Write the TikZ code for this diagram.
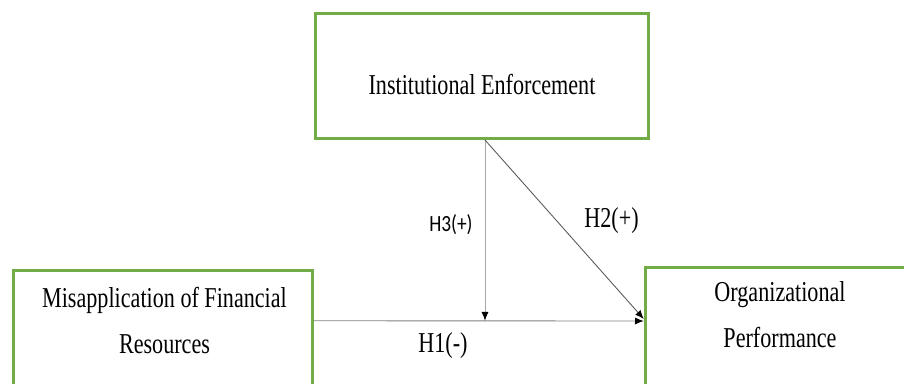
\documentclass[tikz,border=0pt]{standalone}
\usepackage{fontspec}
\setmainfont{Liberation Serif}
\newfontfamily\calib{Carlito}
\usetikzlibrary{arrows.meta, positioning, calc}
\definecolor{boxGreen}{HTML}{70AD47}
\definecolor{lineGray}{HTML}{7F7F7F}
\definecolor{lineLight}{HTML}{A6A6A6}
\definecolor{lineDark}{HTML}{595959}
\newcommand{\tallText}[1]{\scalebox{1}[1.3]{#1}}

\begin{document}
\begin{tikzpicture}[x=0.02cm, y=-0.02cm,
    varbox/.style={draw=boxGreen, line width=1.7pt, rectangle},
    txt/.style={anchor=base, inner sep=0pt, font=\fontsize{12.6}{15}\selectfont},
    hyp/.style={anchor=base, inner sep=0pt, font=\fontsize{12.6}{15}\selectfont},
    link/.style={line width=0.5pt, -{Latex[length=5pt,width=4pt,color=black]}}]
        \useasboundingbox (0,0) rectangle (904,384);
        \clip (0,0) rectangle (904,384);
        % boxes
        \node[varbox, minimum width=6.66cm, minimum height=2.5cm] (enforce) at (482,76) {};
        \node[varbox, minimum width=5.98cm, minimum height=3.19cm] (misapp) at (163,350) {};
        \node[varbox, minimum width=5.39cm, minimum height=3.26cm] (perf) at (780,348.5) {};
        \node[txt] (enforceT) at (482,95) {\tallText{Institutional Enforcement}};
        \node[txt] (misappA) at (164.5,308) {\tallText{Misapplication of Financial}};
        \node[txt] (misappB) at (164.5,354) {\tallText{Resources}};
        \node[txt] (perfA) at (780,302) {\tallText{Organizational}};
        \node[txt] (perfB) at (780,348) {\tallText{Performance}};
        % paths
        \coordinate (h1s) at ([yshift=-1.04cm]misapp.north east);
        \coordinate (h1e) at ([yshift=-1.11cm]perf.north west);
        \coordinate (top) at ([xshift=0.06cm]enforce.south);
        \draw[link, lineGray] (h1s) -- (h1e);
        \draw[link, lineLight] (top) -- (top |- h1s);
        \draw[link, lineDark] (top) -- ([yshift=-1.07cm]perf.north west);
        % labels
        \node[hyp] (h1) at (443,353) {\tallText{H1(-)}};
        \node[hyp] (h2) at (611.5,228) {\tallText{H2(+)}};
        \node[hyp, font=\calib\fontsize{11}{13}\selectfont] (h3) at (451,232) {\scalebox{1}[1.2]{H3(+)}};
\end{tikzpicture}
\end{document}
